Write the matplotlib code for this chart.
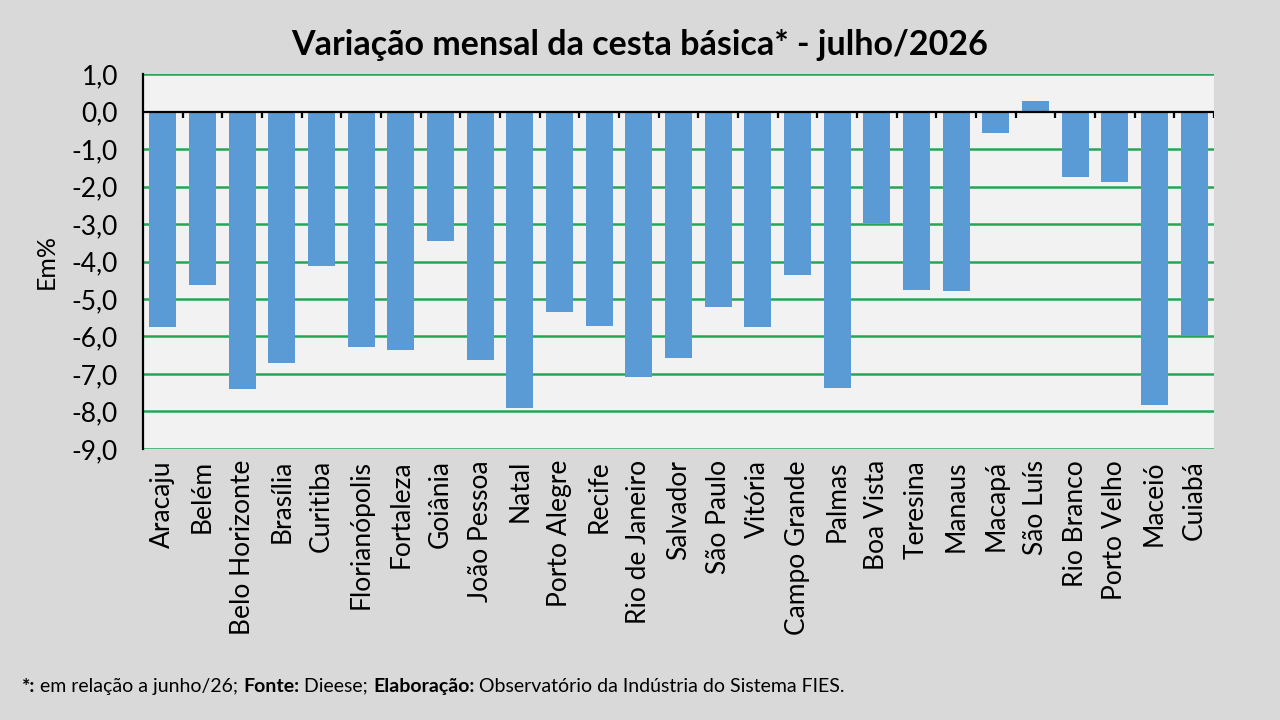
import numpy as np
import matplotlib
matplotlib.use("Agg")
import matplotlib.pyplot as plt

plt.rcParams["font.family"] = ["Lato", "DejaVu Sans"]

# -------------------------
# Data
# -------------------------
cidades = [
    "Aracaju", "Belém", "Belo Horizonte", "Brasília", "Curitiba",
    "Florianópolis", "Fortaleza", "Goiânia", "João Pessoa", "Natal",
    "Porto Alegre", "Recife", "Rio de Janeiro", "Salvador", "São Paulo",
    "Vitória", "Campo Grande", "Palmas", "Boa Vista", "Teresina",
    "Manaus", "Macapá", "São Luís", "Rio Branco", "Porto Velho",
    "Maceió", "Cuiabá",
]
variacao = [
    -5.75, -4.63, -7.41, -6.70, -4.11,
    -6.27, -6.37, -3.46, -6.63, -7.92,
    -5.34, -5.72, -7.08, -6.57, -5.21,
    -5.75, -4.36, -7.37, -2.96, -4.75,
    -4.78, -0.57, 0.28, -1.74, -1.88,
    -7.83, -6.00,
]
yticks = [1, 0, -1, -2, -3, -4, -5, -6, -7, -8, -9]
ytick_labels = ["1,0", "0,0", "-1,0", "-2,0", "-3,0", "-4,0", "-5,0",
                "-6,0", "-7,0", "-8,0", "-9,0"]

FUNDO = "#d9d9d9"
AREA = "#f2f2f2"
AZUL = "#5b9bd5"
VERDE = "#27a556"

# -------------------------
# Figure
# -------------------------
fig = plt.figure(figsize=(12.8, 7.2), dpi=100, facecolor=FUNDO)
ax = fig.add_axes([0.1117, 0.3764, 0.8367, 0.5208])
ax.set_facecolor(AREA)

x = np.arange(len(cidades))
ax.bar(x, variacao, width=0.68, color=AZUL, zorder=3)

ax.set_xlim(-0.5, len(cidades) - 0.5)
ax.set_ylim(-9, 1)

# green gridlines (0 is the black axis line)
for v in yticks:
    if v != 0:
        ax.axhline(v, color=VERDE, lw=1.8, zorder=1)
ax.axhline(0, color="black", lw=1.6, zorder=4)

# small tick marks between categories on the zero line
ax.vlines(x + 0.5, -0.16, 0, color="black", lw=1.6, zorder=4)

ax.set_yticks(yticks)
ax.set_yticklabels(ytick_labels, fontsize=19)
ax.set_xticks(x)
ax.set_xticklabels(cidades, rotation=90, fontsize=19)
ax.tick_params(axis="x", length=0, pad=8)
ax.tick_params(axis="y", length=0, pad=18)

for s in ["top", "right", "bottom"]:
    ax.spines[s].set_visible(False)
ax.spines["left"].set_color("black")
ax.spines["left"].set_linewidth(1.6)
ax.spines["left"].set_zorder(5)

ax.set_ylabel("Em%", fontsize=18, labelpad=10)

# -------------------------
# Title
# -------------------------
fig.text(0.5, 0.937, "Variação mensal da cesta básica* - julho/2026",
         ha="center", va="center", fontsize=24.5, fontweight="bold")

# -------------------------
# Footer (mixed bold / regular)
# -------------------------
partes = [
    ("*:", "bold"), (" em relação a junho/26; ", "normal"),
    ("Fonte:", "bold"), (" Dieese; ", "normal"),
    ("Elaboração:", "bold"), (" Observatório da Indústria do Sistema FIES.", "normal"),
]
t = fig.text(0.017, 0.035, partes[0][0], fontsize=14,
             fontweight=partes[0][1], va="bottom")
for txt, peso in partes[1:]:
    # each piece starts where the previous one ends
    t = ax.annotate(txt, xy=(1, 0), xycoords=t, va="bottom", ha="left",
                    fontsize=14, fontweight=peso, annotation_clip=False)

fig.savefig("out.png", dpi=100, facecolor=FUNDO)
